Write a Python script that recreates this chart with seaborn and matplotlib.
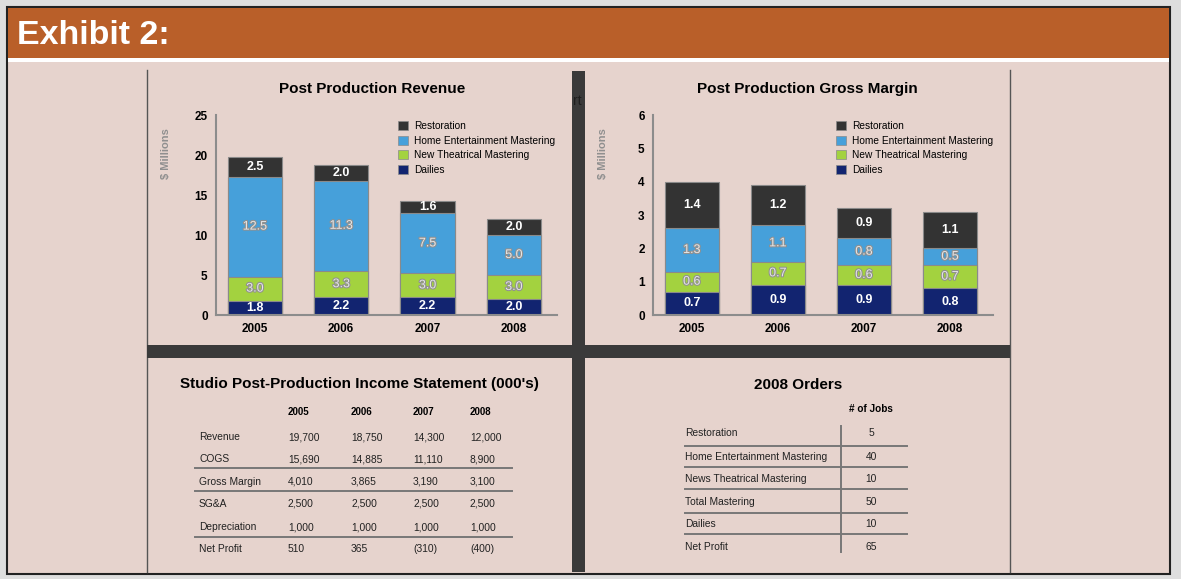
import numpy as np
import pandas as pd
import seaborn as sns
import matplotlib.pyplot as plt
import matplotlib.patheffects as pe
from matplotlib.patches import Rectangle, Patch
from matplotlib.lines import Line2D

W, H = 1181, 579

# ---- data ----
years = ['2005', '2006', '2007', '2008']
segments = ['Dailies', 'New Theatrical Mastering', 'Home Entertainment Mastering', 'Restoration']

rev_dailies = [1.8, 2.2, 2.2, 2.0]
rev_new_theatrical = [3.0, 3.3, 3.0, 3.0]
rev_home_ent = [12.5, 11.3, 7.5, 5.0]
rev_restoration = [2.5, 2.0, 1.6, 2.0]

gm_dailies = [0.7, 0.9, 0.9, 0.8]
gm_new_theatrical = [0.6, 0.7, 0.6, 0.7]
gm_home_ent = [1.3, 1.1, 0.8, 0.5]
gm_restoration = [1.4, 1.2, 0.9, 1.1]

income_rows = ['Revenue', 'COGS', 'Gross Margin', 'SG&A', 'Depreciation', 'Net Profit']
income_vals = [
    ['19,700', '18,750', '14,300', '12,000'],
    ['15,690', '14,885', '11,110', '8,900'],
    ['4,010', '3,865', '3,190', '3,100'],
    ['2,500', '2,500', '2,500', '2,500'],
    ['1,000', '1,000', '1,000', '1,000'],
    ['510', '365', '(310)', '(400)'],
]

order_rows = ['Restoration', 'Home Entertainment Mastering', 'News Theatrical Mastering',
              'Total Mastering', 'Dailies', 'Net Profit']
order_jobs = [5, 40, 10, 50, 10, 65]

colors = {
    'Restoration': '#333333',
    'Home Entertainment Mastering': '#46a0da',
    'New Theatrical Mastering': '#a3d23f',
    'Dailies': '#122470',
}
PINK = '#e6d3cd'

plt.rcParams['font.family'] = ['Liberation Sans', 'DejaVu Sans']

fig = plt.figure(figsize=(W / 100, H / 100), dpi=100, facecolor='#dedede')


def fx(x):
    return x / W


def fy(y):
    return 1 - y / H


def frect(x0, y0, x1, y1, **kw):
    fig.patches.append(Rectangle((fx(x0), fy(y1)), fx(x1) - fx(x0), fy(y0) - fy(y1),
                                 transform=fig.transFigure, **kw))


def fline(x0, y0, x1, y1, **kw):
    fig.lines.append(Line2D([fx(x0), fx(x1)], [fy(y0), fy(y1)], transform=fig.transFigure, **kw))


# frame, header, background (behind the axes)
frect(7, 7, 1170, 574, facecolor=PINK, edgecolor='#222222', linewidth=1.5, zorder=-3)
frect(8, 8, 1169, 58, facecolor='#b95f29', edgecolor='none', zorder=-2)
frect(8, 58, 1169, 62, facecolor='white', edgecolor='none', zorder=-2)
fig.text(fx(17), fy(36), 'Exhibit 2:', color='white', fontsize=24.5, fontweight='bold', va='center', ha='left')

# separators
fline(147, 70, 147, 572, color='#555555', linewidth=1, zorder=-1)
fline(1010, 70, 1010, 572, color='#555555', linewidth=1, zorder=-1)
frect(147, 345, 1010, 358, facecolor='#3a3a3a', edgecolor='none', zorder=-1)
frect(572, 71, 585, 572, facecolor='#3a3a3a', edgecolor='none', zorder=-1)
fig.text(fx(577), fy(101), 'rt', color='#1e1e1e', fontsize=10, va='center', ha='center')


def stacked_chart(rect, layers, ymax, title, title_x, ylabel_x, legend_xy):
    x0, y0, x1, y1 = rect
    ax = fig.add_axes([fx(x0), fy(y1), fx(x1) - fx(x0), fy(y0) - fy(y1)])
    ax.set_facecolor('none')
    # draw from the top layer down: cumulative totals overlap
    cum = np.cumsum(np.array([layers[s] for s in segments]), axis=0)
    for i in range(len(segments) - 1, -1, -1):
        df = pd.DataFrame({'year': years, 'value': cum[i]})
        sns.barplot(data=df, x='year', y='value', color=colors[segments[i]], saturation=1,
                    width=0.63, edgecolor='#8a8a8a', linewidth=0.8, errorbar=None, ax=ax)
    # labels
    for i, s in enumerate(segments):
        vals = layers[s]
        base = cum[i] - np.array(vals)
        for j, v in enumerate(vals):
            yc = base[j] + v / 2
            if s in ('Restoration', 'Dailies'):
                ax.text(j, yc, f'{v:.1f}', color='white', fontsize=9, fontweight='bold',
                        ha='center', va='center')
            else:
                ax.text(j, yc, f'{v:.1f}', color='#e6e6e6', fontsize=9, ha='center', va='center',
                        path_effects=[pe.withStroke(linewidth=1.5, foreground='#909090')])
    ax.set_xlim(-0.45, 3.5)
    ax.set_ylim(0, ymax)
    ax.set_yticks(np.arange(0, ymax + 0.01, 5 if ymax > 10 else 1))
    ax.set_xlabel('')
    ax.set_ylabel('')
    for sp in ['top', 'right']:
        ax.spines[sp].set_visible(False)
    for sp in ['left', 'bottom']:
        ax.spines[sp].set_color('#8c8c8c')
        ax.spines[sp].set_linewidth(1.5)
    ax.tick_params(axis='y', length=0, labelsize=8.5, pad=6)
    ax.tick_params(axis='x', length=0, labelsize=8.5, pad=6)
    for t in ax.get_xticklabels() + ax.get_yticklabels():
        t.set_fontweight('bold')
    fig.text(fx(title_x), fy(89), title, fontsize=11, fontweight='bold',
             ha='center', va='center')
    fig.text(fx(ylabel_x), fy(154), '$ Millions', rotation=90, color='#8f8f8f', fontsize=8,
             fontweight='bold', ha='center', va='center')
    handles = [Patch(facecolor=colors[s], edgecolor='#8a8a8a', linewidth=0.5) for s in segments[::-1]]
    ax.legend(handles=handles, labels=segments[::-1], loc='upper left',
              bbox_to_anchor=(fx(legend_xy[0]), fy(legend_xy[1])), bbox_transform=fig.transFigure,
              frameon=False, fontsize=7.3, handlelength=1.0, handleheight=1.0, borderpad=0,
              borderaxespad=0, labelspacing=0.45, handletextpad=0.6)
    return ax


stacked_chart((216, 115, 557, 315),
              {'Dailies': rev_dailies, 'New Theatrical Mastering': rev_new_theatrical,
               'Home Entertainment Mastering': rev_home_ent, 'Restoration': rev_restoration},
              25, 'Post Production Revenue', 372, 166, (398, 121))
stacked_chart((653, 115, 993, 315),
              {'Dailies': gm_dailies, 'New Theatrical Mastering': gm_new_theatrical,
               'Home Entertainment Mastering': gm_home_ent, 'Restoration': gm_restoration},
              6, 'Post Production Gross Margin', 807, 603, (836, 121))

# ---- income statement table ----
fig.text(fx(359), fy(384), "Studio Post-Production Income Statement (000's)", fontsize=11,
         fontweight='bold', ha='center', va='center')
col_x = [288, 351, 413, 470]
for cx, yr in zip(col_x, years):
    fig.text(fx(cx), fy(412), yr, fontsize=7, fontweight='bold', ha='left', va='center')
row_y = [437, 459, 482, 504, 527, 549]
for ry, name, vals in zip(row_y, income_rows, income_vals):
    fig.text(fx(199), fy(ry), name, fontsize=7.4, ha='left', va='center', color='#222222')
    for cx, v in zip(col_x, vals):
        fig.text(fx(cx), fy(ry), v, fontsize=7.4, ha='left', va='center', color='#222222')
for ly in [468, 491, 537]:
    fline(195, ly, 512, ly, color='#777777', linewidth=1.4)

# ---- 2008 orders table ----
fig.text(fx(798), fy(385), '2008 Orders', fontsize=11, fontweight='bold', ha='center', va='center')
fig.text(fx(871), fy(409), '# of Jobs', fontsize=7.2, fontweight='bold', ha='center', va='center')
ord_y = [433, 457, 479, 502, 524, 547]
for ry, name, v in zip(ord_y, order_rows, order_jobs):
    fig.text(fx(685), fy(ry), name, fontsize=7.4, ha='left', va='center', color='#222222')
    fig.text(fx(871), fy(ry), str(v), fontsize=7.4, ha='center', va='center', color='#222222')
for ly in [446, 467, 489, 513, 534]:
    fline(685, ly, 907, ly, color='#777777', linewidth=1.4)
fline(841, 426, 841, 552, color='#777777', linewidth=1.4)

fig.savefig('out.png', dpi=100, facecolor=fig.get_facecolor())
